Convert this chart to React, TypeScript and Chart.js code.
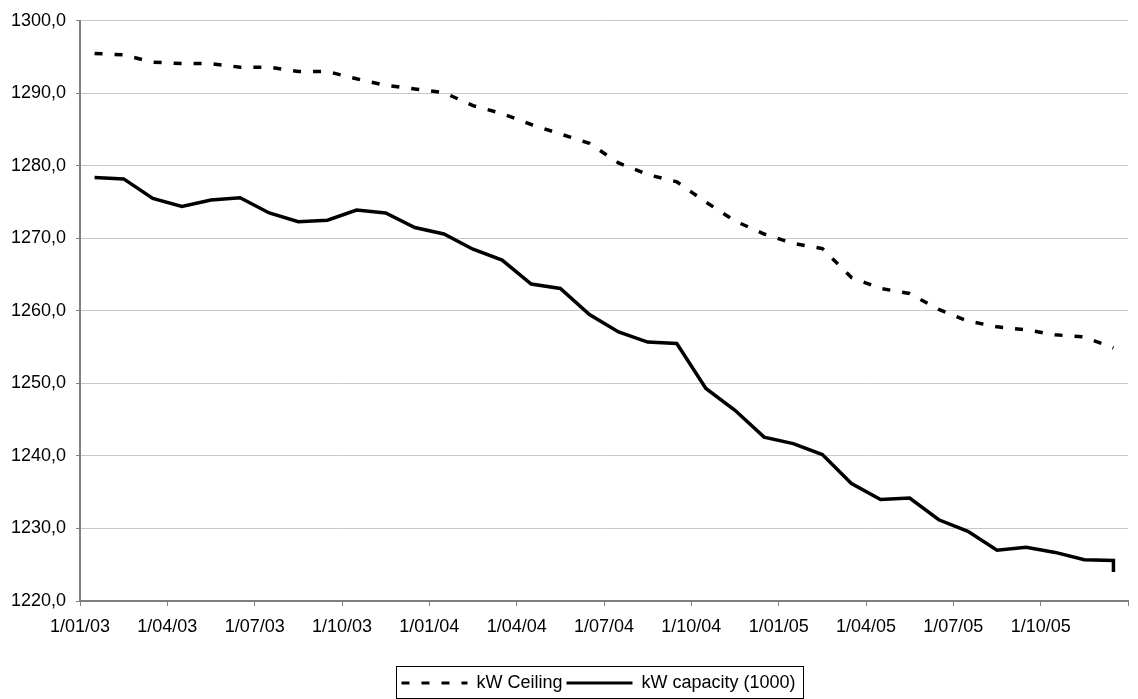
import { useEffect, useRef } from "react";
import { Chart, registerables } from "chart.js";

Chart.register(...registerables);

// Monthly observations (points sit in the middle of each month)
const months = [
  "01/03", "02/03", "03/03", "04/03", "05/03", "06/03", "07/03", "08/03", "09/03", "10/03", "11/03", "12/03",
  "01/04", "02/04", "03/04", "04/04", "05/04", "06/04", "07/04", "08/04", "09/04", "10/04", "11/04", "12/04",
  "01/05", "02/05", "03/05", "04/05", "05/05", "06/05", "07/05", "08/05", "09/05", "10/05", "11/05", "12/05",
];

const ceilingValues = [
  1295.5, 1295.3, 1294.3, 1294.1, 1294.1, 1293.6, 1293.6, 1293.0, 1293.0, 1292.0, 1291.1, 1290.6,
  1290.1, 1288.3, 1287.2, 1285.7, 1284.4, 1283.1, 1280.4, 1278.8, 1277.8, 1275.0, 1272.4, 1270.6,
  1269.3, 1268.6, 1264.6, 1263.1, 1262.4, 1260.2, 1258.6, 1257.8, 1257.4, 1256.7, 1256.4, 1254.9,
];

const capacityValues = [
  1278.4, 1278.2, 1275.5, 1274.4, 1275.3, 1275.6, 1273.5, 1272.3, 1272.5, 1273.9, 1273.5, 1271.5,
  1270.6, 1268.5, 1267.0, 1263.7, 1263.1, 1259.5, 1257.1, 1255.7, 1255.5, 1249.3, 1246.3, 1242.6,
  1241.7, 1240.2, 1236.2, 1234.0, 1234.2, 1231.2, 1229.6, 1227.0, 1227.4, 1226.7, 1225.7, 1225.6,
];
// Final reading recorded in the last month (same date as the previous point)
const capacityFinal = 1224.0;

const xTickLabels = [
  "1/01/03", "1/04/03", "1/07/03", "1/10/03",
  "1/01/04", "1/04/04", "1/07/04", "1/10/04",
  "1/01/05", "1/04/05", "1/07/05", "1/10/05",
];

const seriesNames = ["kW Ceiling", "kW capacity (1000)"];
const seriesDash = [[8, 12], []];

const Y_MIN = 1220;
const Y_MAX = 1300;
const Y_STEP = 10;
const MONTHS_PER_TICK = 3;

const FONT = "'Liberation Sans', Arial, Helvetica, sans-serif";
const LINE_W = 3.5;

// Legend placement (the original legend sits a little right of centre)
const LEGEND_CENTER_X = 598.5;
const LEGEND_SHIFT_Y = 3;

const legendPlacePlugin = {
  id: "legendPlace",
  afterLayout(chart: any) {
    const legend = chart.legend;
    if (!legend) return;
    const dx = LEGEND_CENTER_X - (legend.left + legend.right) / 2;
    legend.left += dx;
    legend.right += dx;
    legend.top += LEGEND_SHIFT_Y;
    legend.bottom += LEGEND_SHIFT_Y;
    (legend.legendHitBoxes || []).forEach((b: any) => {
      b.left += dx;
      b.top += LEGEND_SHIFT_Y;
    });
  },
  afterDraw(chart: any) {
    const legend = chart.legend;
    if (!legend || !legend.legendHitBoxes || !legend.legendHitBoxes.length) return;
    const hb = legend.legendHitBoxes;
    let left = Infinity, right = -Infinity, top = Infinity, bottom = -Infinity;
    hb.forEach((b: any) => {
      left = Math.min(left, b.left);
      right = Math.max(right, b.left + b.width);
      top = Math.min(top, b.top);
      bottom = Math.max(bottom, b.top + b.height);
    });
    const cy = (top + bottom) / 2;
    const ctx = chart.ctx;
    ctx.save();
    ctx.strokeStyle = "#000";
    ctx.lineWidth = 1;
    ctx.setLineDash([]);
    ctx.strokeRect(Math.round(left - 5) + 0.5, Math.round(cy - 20) + 0.5, Math.round(right - left + 13), 32);
    ctx.restore();
  },
};

export default function App() {
  const canvasRef = useRef<HTMLCanvasElement | null>(null);

  useEffect(() => {
    if (!canvasRef.current) return;
    const ceilingPts = ceilingValues.map((v, i) => ({ x: i + 0.5, y: v }));
    const capacityPts = capacityValues.map((v, i) => ({ x: i + 0.5, y: v }));
    capacityPts.push({ x: capacityValues.length - 0.5, y: capacityFinal });
    const xMax = months.length;

    const chart = new Chart(canvasRef.current, {
      type: "line",
      data: {
        datasets: [
          {
            label: seriesNames[0],
            data: ceilingPts,
            borderColor: "#000",
            backgroundColor: "#000",
            borderWidth: LINE_W,
            borderDash: seriesDash[0],
            borderCapStyle: "butt",
            pointRadius: 0,
            tension: 0,
          },
          {
            label: seriesNames[1],
            data: capacityPts,
            borderColor: "#000",
            backgroundColor: "#000",
            borderWidth: LINE_W,
            borderDash: seriesDash[1],
            pointRadius: 0,
            tension: 0,
          },
        ],
      },
      options: {
        responsive: false,
        animation: false,
        parsing: false as any,
        layout: { padding: { left: 0, right: 6, top: 17, bottom: 0 } },
        plugins: {
          tooltip: { enabled: false },
          legend: {
            position: "bottom",
            labels: {
              usePointStyle: true,
              pointStyle: "line",
              pointStyleWidth: 66,
              boxWidth: 66,
              boxHeight: 17,
              padding: 4,
              color: "#000",
              font: { family: FONT, size: 18 },
              generateLabels: (c: any) => {
                const items = Chart.defaults.plugins.legend.labels.generateLabels(c);
                items.forEach((it: any, i: number) => {
                  it.lineDash = seriesDash[i] || [];
                  it.lineWidth = 3;
                  it.strokeStyle = "#000";
                  it.fillStyle = "#000";
                  it.pointStyle = "line";
                  it.lineCap = "butt";
                });
                return items;
              },
            },
          },
        },
        scales: {
          x: {
            type: "linear",
            min: 0,
            max: xMax,
            afterBuildTicks: (scale: any) => {
              const ticks = [];
              for (let v = 0; v <= xMax; v += MONTHS_PER_TICK) ticks.push({ value: v });
              scale.ticks = ticks;
            },
            afterFit: (scale: any) => {
              scale.height = 66;
            },
            ticks: {
              autoSkip: false,
              maxRotation: 0,
              padding: 10,
              color: "#000",
              font: { family: FONT, size: 18 },
              callback: (v: any) => xTickLabels[Math.round(Number(v) / MONTHS_PER_TICK)] ?? "",
            },
            grid: {
              drawOnChartArea: false,
              drawTicks: true,
              tickLength: 5,
              color: "#808080",
            },
            border: { color: "#808080", width: 2 },
          },
          y: {
            min: Y_MIN,
            max: Y_MAX,
            afterFit: (scale: any) => {
              scale.width = 80;
            },
            ticks: {
              stepSize: Y_STEP,
              padding: 10,
              color: "#000",
              font: { family: FONT, size: 18 },
              callback: (v: any) => Number(v).toFixed(1).replace(".", ","),
            },
            grid: {
              color: "#c8c8c8",
              tickColor: "#808080",
              tickLength: 4,
              lineWidth: 1,
            },
            border: { color: "#808080", width: 2 },
          },
        },
      },
      plugins: [legendPlacePlugin],
    });

    return () => chart.destroy();
  }, []);

  return (
    <div style={{ position: "absolute", left: 0, top: 0, width: 1138, height: 699, background: "#fff" }}>
      <canvas ref={canvasRef} width={1138} height={699} style={{ display: "block" }} />
    </div>
  );
}
